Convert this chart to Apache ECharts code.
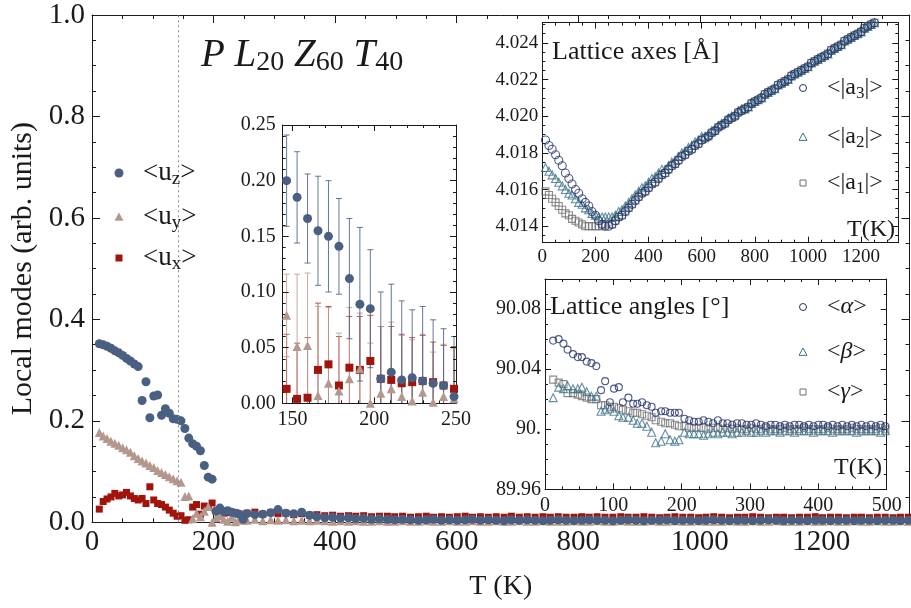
<!DOCTYPE html>
<html><head><meta charset="utf-8">
<script src="https://cdn.jsdelivr.net/npm/echarts@6/dist/echarts.min.js"></script>
<style>html,body{margin:0;padding:0;background:#fff}#c{width:911px;height:608px}</style>
</head><body><div id="c"></div>
<script>
// ---------------- main plot data ----------------
const tLow = [12, 18.4, 24.8, 31.2, 37.6, 44, 50.4, 56.8, 63.2, 69.6, 76, 82.4, 88.8, 95.2, 101.6, 108, 114.4, 120.8, 127.2, 133.6, 140, 146.4, 152.8, 159.2, 165.6, 172, 178.4, 184.8, 191.2, 197.6, 204, 210.4, 216.8, 223.2, 229.6, 236, 242.4, 248.8];
const uzLow = [0.352, 0.350, 0.347, 0.343, 0.338, 0.334, 0.329, 0.323, 0.318, 0.312, 0.307, 0.240, 0.277, 0.206, 0.249, 0.251, 0.211, 0.224, 0.215, 0.204, 0.203, 0.200, 0.185, 0.166, 0.155, 0.150, 0.141, 0.112, 0.089, 0.085, 0.022, 0.028, 0.021, 0.023, 0.020, 0.018, 0.016, 0.006];
const uyLow = [0.177, 0.170, 0.165, 0.160, 0.156, 0.152, 0.147, 0.143, 0.138, 0.131, 0.126, 0.121, 0.117, 0.112, 0.108, 0.102, 0.098, 0.094, 0.090, 0.086, 0.082, 0.079, 0.051, 0.052, 0.007, 0.018, 0.011, 0.022, 0.031, 0.000, 0.009, 0.013, 0.006, 0.002, 0.010, 0.001, 0.006, 0.004];
const uxLow = [0.026, 0.041, 0.046, 0.050, 0.057, 0.052, 0.054, 0.059, 0.052, 0.047, 0.044, 0.047, 0.037, 0.070, 0.044, 0.037, 0.035, 0.030, 0.024, 0.018, 0.012, 0.013, 0.004, 0.005, 0.030, 0.035, 0.016, 0.032, 0.030, 0.038, 0.022, 0.021, 0.018, 0.019, 0.020, 0.019, 0.016, 0.013];
const tTail = [255, 268, 281, 294, 306, 319, 332, 345, 358, 370, 383, 396, 409, 422, 434, 447, 460, 473, 486, 498, 511, 524, 537, 550, 562, 575, 588, 601, 614, 626, 639, 652, 665, 678, 690, 703, 716, 729, 742, 754, 767, 780, 793, 806, 818, 831, 844, 857, 870, 882, 895, 908, 921, 934, 946, 959, 972, 985, 998, 1010, 1023, 1036, 1049, 1062, 1074, 1087, 1100, 1113, 1126, 1138, 1151, 1164, 1177, 1190, 1202, 1215, 1228, 1241, 1254, 1266, 1279, 1292, 1305, 1318, 1330, 1343];
const uzTail = [0.017, 0.015, 0.016, 0.019, 0.025, 0.018, 0.017, 0.020, 0.014, 0.011, 0.009, 0.010, 0.008, 0.009, 0.007, 0.008, 0.006, 0.007, 0.006, 0.005, 0.006, 0.005, 0.004, 0.005, 0.006, 0.004, 0.005, 0.004, 0.005, 0.006, 0.004, 0.005, 0.004, 0.003, 0.005, 0.004, 0.005, 0.004, 0.003, 0.004, 0.005, 0.004, 0.003, 0.004, 0.005, 0.004, 0.004, 0.003, 0.004, 0.005, 0.004, 0.003, 0.004, 0.004, 0.005, 0.003, 0.004, 0.004, 0.003, 0.004, 0.005, 0.004, 0.003, 0.004, 0.004, 0.003, 0.004, 0.005, 0.004, 0.003, 0.004, 0.004, 0.003, 0.004, 0.004, 0.003, 0.004, 0.004, 0.003, 0.004, 0.004, 0.003, 0.004, 0.004, 0.003, 0.004];
const uyTail = [0.004, 0.006, 0.003, 0.005, 0.004, 0.005, 0.003, 0.004, 0.003, 0.004, 0.003, 0.002, 0.003, 0.002, 0.003, 0.002, 0.002, 0.003, 0.002, 0.002, 0.003, 0.002, 0.002, 0.003, 0.002, 0.002, 0.003, 0.002, 0.002, 0.003, 0.002, 0.002, 0.003, 0.002, 0.002, 0.003, 0.002, 0.002, 0.003, 0.002, 0.002, 0.002, 0.003, 0.002, 0.002, 0.003, 0.002, 0.002, 0.003, 0.002, 0.002, 0.002, 0.003, 0.002, 0.002, 0.003, 0.002, 0.002, 0.003, 0.002, 0.002, 0.002, 0.003, 0.002, 0.002, 0.003, 0.002, 0.002, 0.003, 0.002, 0.002, 0.002, 0.003, 0.002, 0.002, 0.003, 0.002, 0.002, 0.003, 0.002, 0.002, 0.003, 0.002, 0.002, 0.003, 0.002];
const uxTail = [0.018, 0.020, 0.016, 0.019, 0.017, 0.018, 0.015, 0.017, 0.014, 0.015, 0.013, 0.014, 0.012, 0.013, 0.012, 0.013, 0.011, 0.012, 0.012, 0.011, 0.012, 0.010, 0.011, 0.012, 0.010, 0.011, 0.010, 0.011, 0.012, 0.010, 0.011, 0.010, 0.011, 0.010, 0.012, 0.010, 0.011, 0.010, 0.011, 0.010, 0.011, 0.010, 0.010, 0.011, 0.010, 0.011, 0.010, 0.010, 0.011, 0.010, 0.010, 0.011, 0.010, 0.009, 0.010, 0.011, 0.010, 0.010, 0.009, 0.010, 0.011, 0.010, 0.009, 0.010, 0.010, 0.011, 0.010, 0.009, 0.010, 0.010, 0.009, 0.010, 0.010, 0.011, 0.009, 0.010, 0.010, 0.009, 0.010, 0.010, 0.009, 0.010, 0.010, 0.009, 0.010, 0.010];
const dottedT = 142;
const mainXTicks = [0, 200, 400, 600, 800, 1000, 1200];
const mainYTicks = [0, 0.2, 0.4, 0.6, 0.8, 1.0];

// ---------------- inset: error bars (points tLow[21..37]) ----------------
const insetStart = 21;
const errZ = [0.041, 0.041, 0.040, 0.049, 0.050, 0.043, 0.054, 0.069, 0.053, 0.078, 0.079, 0.071, 0.061, 0.067, 0.057, 0.051, 0.054];
const errY = [0.037, 0.065, 0.065, 0.080, 0.068, 0.052, 0.064, 0.050, 0.054, 0.060, 0.060, 0.055, 0.055, 0.052, 0.045, 0.047, 0.045];
const errX = [0.049, 0.050, 0.054, 0.060, 0.052, 0.044, 0.046, 0.048, 0.041, 0.047, 0.048, 0.044, 0.040, 0.041, 0.036, 0.036, 0.038];
const insetXTicks = [150, 200, 250];
const insetYTicks = [0, 0.05, 0.10, 0.15, 0.20, 0.25];

// ---------------- inset: lattice axes ----------------
const tAxLow = [12, 25, 37, 50, 62, 75, 87, 100, 112, 125, 137, 150, 162, 175, 187, 200, 212, 225, 237, 250];
const a3Low = [4.0187, 4.0184, 4.0182, 4.0179, 4.0176, 4.0173, 4.0169, 4.0166, 4.0163, 4.0160, 4.0158, 4.0155, 4.0153, 4.0151, 4.0148, 4.0146, 4.0143, 4.0141, 4.0140, 4.0140];
const a2Low = [4.0172, 4.0170, 4.0168, 4.0166, 4.0164, 4.0162, 4.0160, 4.0158, 4.0157, 4.0155, 4.0153, 4.0152, 4.0150, 4.0149, 4.0147, 4.0146, 4.0145, 4.0145, 4.0145, 4.0145];
const a1Low = [4.0159, 4.0157, 4.0155, 4.0153, 4.0151, 4.0149, 4.0147, 4.0146, 4.0144, 4.0143, 4.0142, 4.0141, 4.0140, 4.0140, 4.0140, 4.0140, 4.0140, 4.0140, 4.0141, 4.0142];
const tAxHigh = [262.5, 275, 287.5, 300, 312.5, 325, 337.5, 350, 362.5, 375, 387.5, 400, 412.5, 425, 437.5, 450, 462.5, 475, 487.5, 500, 512.5, 525, 537.5, 550, 562.5, 575, 587.5, 600, 612.5, 625, 637.5, 650, 662.5, 675, 687.5, 700, 712.5, 725, 737.5, 750, 762.5, 775, 787.5, 800, 812.5, 825, 837.5, 850, 862.5, 875, 887.5, 900, 912.5, 925, 937.5, 950, 962.5, 975, 987.5, 1000, 1012.5, 1025, 1037.5, 1050, 1062.5, 1075, 1087.5, 1100, 1112.5, 1125, 1137.5, 1150, 1162.5, 1175, 1187.5, 1200, 1212.5, 1225, 1237.5, 1250, 1262.5, 1275, 1287.5, 1300];
const axesHigh = [4.0141, 4.0143, 4.0145, 4.0146, 4.0148, 4.0150, 4.0152, 4.0154, 4.0156, 4.0158, 4.0159, 4.0161, 4.0163, 4.0164, 4.0166, 4.0168, 4.0169, 4.0171, 4.0173, 4.0174, 4.0176, 4.0178, 4.0179, 4.0181, 4.0182, 4.0184, 4.0185, 4.0187, 4.0188, 4.0189, 4.0191, 4.0192, 4.0194, 4.0195, 4.0196, 4.0198, 4.0199, 4.0200, 4.0202, 4.0203, 4.0204, 4.0205, 4.0207, 4.0208, 4.0209, 4.0210, 4.0212, 4.0213, 4.0214, 4.0215, 4.0217, 4.0218, 4.0219, 4.0220, 4.0222, 4.0223, 4.0224, 4.0225, 4.0226, 4.0227, 4.0229, 4.0230, 4.0231, 4.0232, 4.0233, 4.0234, 4.0236, 4.0237, 4.0238, 4.0239, 4.0241, 4.0242, 4.0243, 4.0244, 4.0245, 4.0246, 4.0248, 4.0249, 4.0250, 4.0251, 4.0252, 4.0253, 4.0255, 4.0256];
const a2High = [4.0145, 4.0146, 4.0148, 4.0149, 4.0151, 4.0153, 4.0155, 4.0157, 4.0159, 4.0161, 4.0162, 4.0164, 4.0166, 4.0167, 4.0169, 4.0171, 4.0171, 4.0173, 4.0175, 4.0176, 4.0178, 4.0180, 4.0181, 4.0183, 4.0184, 4.0186, 4.0187, 4.0189, 4.0189, 4.0190, 4.0192, 4.0193, 4.0195, 4.0196, 4.0197, 4.0199, 4.0200, 4.0201, 4.0203, 4.0204, 4.0204, 4.0205, 4.0207, 4.0208, 4.0209, 4.0210, 4.0212, 4.0213, 4.0214, 4.0215, 4.0217, 4.0218, 4.0219, 4.0220, 4.0222, 4.0223, 4.0224, 4.0225, 4.0226, 4.0227, 4.0229, 4.0230, 4.0231, 4.0232, 4.0233, 4.0234, 4.0236, 4.0237, 4.0238, 4.0239, 4.0241, 4.0242, 4.0243, 4.0244, 4.0245, 4.0246, 4.0248, 4.0249, 4.0250, 4.0251, 4.0252, 4.0253, 4.0255, 4.0256];
const axesXTicks = [0, 200, 400, 600, 800, 1000, 1200];
const axesYTicks = [4.014, 4.016, 4.018, 4.020, 4.022, 4.024];

// ---------------- inset: lattice angles ----------------
const tAng = [12, 20, 27, 33, 41, 48, 54, 61, 68, 75, 82, 88, 95, 101, 108, 114, 122, 129, 135, 142, 149, 156, 162, 170, 176, 183, 190, 196, 204, 211, 218, 225, 232, 239, 246, 253, 260, 267, 274, 281, 288, 295, 302, 309, 316, 323, 330, 337, 344, 351, 358, 365, 372, 379, 386, 393, 400, 407, 414, 421, 428, 435, 442, 449, 456, 463, 470, 477, 484, 491, 498];
const alphaA = [90.059, 90.060, 90.057, 90.053, 90.050, 90.048, 90.048, 90.045, 90.044, 90.042, 90.026, 90.032, 90.018, 90.027, 90.028, 90.018, 90.021, 90.017, 90.017, 90.018, 90.016, 90.015, 90.011, 90.012, 90.012, 90.011, 90.011, 90.011, 90.007, 90.006, 90.005, 90.005, 90.006, 90.005, 90.004, 90.006, 90.004, 90.004, 90.003, 90.004, 90.004, 90.003, 90.003, 90.004, 90.003, 90.002, 90.003, 90.003, 90.002, 90.003, 90.002, 90.003, 90.003, 90.002, 90.003, 90.002, 90.003, 90.003, 90.002, 90.003, 90.002, 90.003, 90.002, 90.003, 90.002, 90.003, 90.002, 90.003, 90.002, 90.003, 90.002];
const betaA = [90.021, 90.028, 90.027, 90.029, 90.027, 90.027, 90.028, 90.025, 90.022, 90.022, 90.012, 90.013, 90.014, 90.012, 90.009, 90.008, 90.008, 90.006, 90.004, 90.004, 90.002, 89.998, 89.991, 89.992, 89.997, 89.993, 89.992, 89.993, 89.998, 89.997, 89.997, 89.997, 89.996, 89.997, 89.998, 89.997, 89.998, 89.998, 89.997, 89.998, 89.998, 89.999, 89.998, 89.998, 89.999, 89.998, 89.999, 89.999, 89.998, 89.999, 89.999, 89.998, 89.999, 89.999, 89.999, 89.998, 89.999, 89.999, 89.999, 89.998, 89.999, 89.999, 89.999, 89.999, 89.998, 89.999, 89.999, 89.999, 89.999, 89.998, 89.999];
const gammaA = [90.033, 90.031, 90.030, 90.024, 90.024, 90.023, 90.022, 90.021, 90.020, 90.020, 90.016, 90.016, 90.015, 90.015, 90.014, 90.013, 90.012, 90.011, 90.011, 90.010, 90.009, 90.008, 90.006, 90.005, 90.004, 90.004, 90.003, 90.002, 90.002, 90.001, 90.001, 90.001, 90.001, 90.000, 90.001, 90.001, 90.000, 90.001, 90.000, 90.001, 90.000, 90.000, 90.001, 90.000, 90.000, 90.001, 90.000, 90.000, 90.000, 90.001, 90.000, 90.000, 90.000, 90.001, 90.000, 90.000, 90.000, 90.000, 90.001, 90.000, 90.000, 90.000, 90.000, 90.001, 90.000, 90.000, 90.000, 90.000, 90.000, 90.001, 90.000];
const angXTicks = [0, 100, 200, 300, 400, 500];
const angYTicks = [89.96, 90.00, 90.04, 90.08];

// ---------------- helpers ----------------
const FONT = 'Liberation Serif';
const INK = '#1a1a1a';
const C_Z = '#4a6082', C_Y = '#b4978d', C_X = '#a0140c';
const C_NAVY = '#25336b', C_TEAL = '#3d7389', C_GRAY = '#6e6e6e';

function steps(a, b, st) { const o = []; for (let k = 0; a + k * st <= b + 1e-9; k++) o.push(Math.round((a + k * st) * 1e6) / 1e6); return o; }
function minors(min, max, st, majors) {
  const first = Math.ceil(min / st - 1e-9) * st;
  return steps(first, max, st).filter(v => !majors.some(m => Math.abs(m - v) < st / 100));
}
const xAxes = [], yAxes = [];
function frame(g, o) {
  const mk = (dim, pos, ticks, len, line, label, extra) => {
    const isX = dim === 'x';
    const a = Object.assign({
      type: 'value', gridIndex: g, position: pos,
      min: isX ? o.xr[0] : o.yr[0], max: isX ? o.xr[1] : o.yr[1],
      splitLine: { show: false }, minorTick: { show: false },
      axisLine: { show: line, onZero: false, lineStyle: { color: INK, width: 1 } },
      axisTick: { show: true, inside: true, length: len, customValues: ticks, lineStyle: { color: INK, width: 1 } },
      axisLabel: label ? { show: true, customValues: ticks, formatter: isX ? o.xf : o.yf, margin: isX ? o.xm : o.ym,
        fontSize: o.fs, fontFamily: FONT, color: INK, showMinLabel: true, showMaxLabel: true, hideOverlap: false } : { show: false },
      z: 3
    }, extra || {});
    const arr = isX ? xAxes : yAxes; arr.push(a); return arr.length - 1;
  };
  const xMin = minors(o.xr[0], o.xr[1], o.xs, o.xt), yMin = minors(o.yr[0], o.yr[1], o.ys, o.yt);
  const xi = mk('x', 'bottom', o.xt, o.L, true, true, o.xname);
  mk('x', 'bottom', xMin, o.l, false, false);
  mk('x', 'top', o.xt, o.L, true, false);
  mk('x', 'top', xMin, o.l, false, false);
  const yi = mk('y', 'left', o.yt, o.L, true, true, o.yname);
  mk('y', 'left', yMin, o.l, false, false);
  mk('y', 'right', o.yt, o.L, true, false);
  mk('y', 'right', yMin, o.l, false, false);
  return { xi, yi };
}
const grids = [
  { left: 92, top: 15, width: 817.5, height: 507.3 },
  { left: 282.7, top: 125, width: 173.3, height: 278.3 },
  { left: 542.3, top: 22.7, width: 356, height: 220 },
  { left: 545, top: 279, width: 341.7, height: 210.3 }
].map(g => Object.assign(g, { containLabel: false, outerBoundsMode: 'none', show: false }));

const A0 = frame(0, { xr: [0, 1345], yr: [0, 1], xt: mainXTicks, yt: mainYTicks, xs: 50, ys: 0.05, L: 8, l: 4, fs: 29,
  xf: v => String(Math.round(v)), yf: v => v.toFixed(1), xm: 6, ym: 7,
  xname: { name: 'T (K)', nameLocation: 'middle', nameGap: 50, nameTextStyle: { fontSize: 28, fontFamily: FONT, color: INK } },
  yname: { name: 'Local modes (arb. units)', nameLocation: 'middle', nameGap: 50, nameTextStyle: { fontSize: 30, fontFamily: FONT, color: INK } } });
const A1 = frame(1, { xr: [144, 250], yr: [0, 0.25], xt: insetXTicks, yt: insetYTicks, xs: 10, ys: 0.01, L: 6, l: 3, fs: 20,
  xf: v => String(Math.round(v)), yf: v => v.toFixed(2), xm: 6, ym: 7 });
const A2 = frame(2, { xr: [0, 1340], yr: [4.0131, 4.0251], xt: axesXTicks, yt: axesYTicks, xs: 50, ys: 0.0005, L: 6, l: 3, fs: 19,
  xf: v => String(Math.round(v)), yf: v => v.toFixed(3), xm: 5, ym: 4 });
const A3 = frame(3, { xr: [0, 500], yr: [89.96, 90.1], xt: angXTicks, yt: angYTicks, xs: 25, ys: 0.01, L: 6, l: 3, fs: 20,
  xf: v => String(Math.round(v)), yf: v => (Math.abs(v - 90) < 1e-6 ? '90.' : v.toFixed(2)), xm: 6, ym: 4 });

const zip = (ts, vs) => ts.map((t, i) => [t, vs[i]]);
const tAll = tLow.concat(tTail);
function sc(A, data, symbol, size, color, hollow, extra) {
  return Object.assign({
    type: 'scatter', xAxisIndex: A.xi, yAxisIndex: A.yi, data, symbol, symbolSize: size, silent: true,
    itemStyle: hollow ? { color: 'rgba(0,0,0,0)', borderColor: color, borderWidth: 1.1 } : { color: color, opacity: 1 },
    z: 4
  }, extra || {});
}
function errSeries(A, vals, errs, color) {
  const data = tLow.slice(insetStart).map((t, k) => [t, vals[insetStart + k], errs[k]]);
  return {
    type: 'custom', xAxisIndex: A.xi, yAxisIndex: A.yi, data, clip: true, silent: true, z: 3,
    encode: { x: 0, y: 1 },
    renderItem: (params, api) => {
      const t = api.value(0), v = api.value(1), e = api.value(2);
      const p1 = api.coord([t, v + e]), p2 = api.coord([t, v - e]);
      const st = { stroke: color, lineWidth: 1, fill: null };
      return { type: 'group', children: [
        { type: 'line', shape: { x1: p1[0], y1: p1[1], x2: p2[0], y2: p2[1] }, style: st },
        { type: 'line', shape: { x1: p1[0] - 3, y1: p1[1], x2: p1[0] + 3, y2: p1[1] }, style: st },
        { type: 'line', shape: { x1: p2[0] - 3, y1: p2[1], x2: p2[0] + 3, y2: p2[1] }, style: st }
      ] };
    }
  };
}
const inS = tLow.slice(insetStart);
const tAx = tAxLow.concat(tAxHigh);
const series = [
  sc(A0, zip(tAll, uxLow.concat(uxTail)), 'rect', 7, C_X, false),
  sc(A0, zip(tAll, uyLow.concat(uyTail)), 'triangle', 9, C_Y, false),
  sc(A0, zip(tAll, uzLow.concat(uzTail)), 'circle', 9, C_Z, false, {
    markLine: { silent: true, symbol: ['none', 'none'], label: { show: false }, animation: false,
      lineStyle: { color: '#8a8a8a', type: [2, 3], width: 1 }, data: [{ xAxis: dottedT }] } }),
  errSeries(A1, uxLow, errX, 'rgba(165,40,30,0.75)'),
  errSeries(A1, uyLow, errY, 'rgba(190,155,145,0.85)'),
  errSeries(A1, uzLow, errZ, 'rgba(74,96,130,0.85)'),
  sc(A1, zip(inS, uxLow.slice(insetStart)), 'rect', 8, C_X, false),
  sc(A1, zip(inS, uyLow.slice(insetStart)), 'triangle', 9, C_Y, false),
  sc(A1, zip(inS, uzLow.slice(insetStart)), 'circle', 9, C_Z, false),
  sc(A2, zip(tAx, a1Low.concat(axesHigh)), 'rect', 7, C_GRAY, true),
  sc(A2, zip(tAx, a2Low.concat(a2High)), 'triangle', 8, C_TEAL, true),
  sc(A2, zip(tAx, a3Low.concat(axesHigh)), 'circle', 8, C_NAVY, true),
  sc(A3, zip(tAng, gammaA), 'rect', 7, C_GRAY, true),
  sc(A3, zip(tAng, betaA), 'triangle', 8, C_TEAL, true),
  sc(A3, zip(tAng, alphaA), 'circle', 7, C_NAVY, true)
];

// ---------------- text / legends (graphic) ----------------
function rt(x, y, text, rich, align) {
  return { type: 'text', x, y, z: 10, silent: true,
    style: { text, rich, fill: INK, align: align || 'left', verticalAlign: 'middle', fontFamily: FONT } };
}
function richSet(main, sub) {
  return {
    t: { fontSize: main, fontFamily: FONT, fill: INK, lineHeight: main + 4 },
    i: { fontSize: main, fontFamily: FONT, fill: INK, fontStyle: 'italic', lineHeight: main + 4 },
    s: { fontSize: sub, fontFamily: FONT, fill: INK, lineHeight: Math.round(sub * 0.75), verticalAlign: 'bottom' }
  };
}
const mainRich = richSet(27, 19);
const insRich = richSet(24, 17);
const titleRich = {
  i: { fontSize: 39, fontFamily: FONT, fill: INK, fontStyle: 'italic', lineHeight: 41 },
  s: { fontSize: 28, fontFamily: FONT, fill: INK, lineHeight: 19, verticalAlign: 'bottom' }
};
function tri(cx, cy, r, color, hollow) {
  return { type: 'polygon', z: 10, silent: true, shape: { points: [[cx, cy - r], [cx + r, cy + r * 0.85], [cx - r, cy + r * 0.85]] },
    style: hollow ? { fill: 'none', stroke: color, lineWidth: 1 } : { fill: color } };
}
function circ(cx, cy, r, color, hollow) {
  return { type: 'circle', z: 10, silent: true, shape: { cx, cy, r }, style: hollow ? { fill: 'none', stroke: color, lineWidth: 1 } : { fill: color } };
}
function sq(cx, cy, h, color, hollow) {
  return { type: 'rect', z: 10, silent: true, shape: { x: cx - h, y: cy - h, width: 2 * h, height: 2 * h }, style: hollow ? { fill: 'none', stroke: color, lineWidth: 1 } : { fill: color } };
}
const graphics = [
  rt(201, 56, '{i|P L}{s|20}{i| Z}{s|60}{i| T}{s|40}', titleRich),
  circ(119, 173, 4.5, C_Z), tri(119, 217, 4.5, C_Y), sq(119, 258, 3.5, C_X),
  rt(143, 173, '{t|<u}{s|z}{t|>}', mainRich),
  rt(143, 217, '{t|<u}{s|y}{t|>}', mainRich),
  rt(143, 258, '{t|<u}{s|x}{t|>}', mainRich),
  rt(552, 52, '{t|Lattice axes [Å]}', { t: { fontSize: 26, fontFamily: FONT, fill: INK } }),
  circ(803, 88, 3.5, C_NAVY, true), tri(803, 137, 4, C_TEAL, true), sq(803, 183, 3, C_GRAY, true),
  rt(827, 88, '{t|<|a}{s|3}{t||>}', insRich),
  rt(827, 137, '{t|<|a}{s|2}{t||>}', insRich),
  rt(827, 183, '{t|<|a}{s|1}{t||>}', insRich),
  rt(895, 230, '{t|T(K)}', { t: { fontSize: 24, fontFamily: FONT, fill: INK } }, 'right'),
  rt(550, 307, '{t|Lattice angles [°]}', { t: { fontSize: 26, fontFamily: FONT, fill: INK } }),
  circ(803, 307, 3.5, C_NAVY, true), tri(803, 352, 4, C_TEAL, true), sq(803, 392, 3, C_GRAY, true),
  rt(827, 307, '{t|<}{i|α}{t|>}', insRich),
  rt(827, 352, '{t|<}{i|β}{t|>}', insRich),
  rt(827, 392, '{t|<}{i|γ}{t|>}', insRich),
  rt(882, 468, '{t|T(K)}', { t: { fontSize: 24, fontFamily: FONT, fill: INK } }, 'right')
];

const chart = echarts.init(document.getElementById('c'), null, { renderer: 'canvas' });
chart.setOption({
  animation: false,
  backgroundColor: '#ffffff',
  textStyle: { fontFamily: FONT },
  grid: grids,
  xAxis: xAxes,
  yAxis: yAxes,
  series,
  graphic: graphics
});
</script></body></html>
